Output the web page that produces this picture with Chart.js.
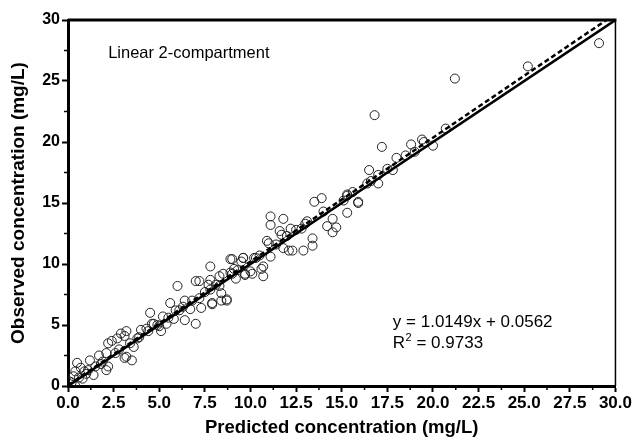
<!DOCTYPE html>
<html>
<head>
<meta charset="utf-8">
<script src="https://cdn.jsdelivr.net/npm/chart.js@4/dist/chart.umd.min.js"></script>
<style>
html,body{margin:0;padding:0;background:#fff;}
#wrap{width:633px;height:442px;position:relative;}
</style>
</head>
<body>
<div id="wrap"><canvas id="c" width="633" height="442"></canvas></div>
<script>
// Observed vs predicted concentrations (mg/L)
const predicted = [
 29.1,21.2,25.2,20.7,19.4,16.8,17.2,18.8,19.5,20.0,18.0,17.8,16.5,17.0,16.4,17.0,15.3,15.1,15.9,15.3,
 13.5,13.9,15.3,15.9,11.1,11.8,11.1,13.1,14.5,14.2,14.7,14.5,12.2,11.6,11.7,12.8,13.4,13.4,10.9,11.0,
 11.8,12.1,12.3,12.9,11.1,9.6,10.3,9.0,10.7,10.6,10.0,9.7,10.7,9.1,9.0,7.8,8.9,9.5,9.6,6.0,
 7.0,7.2,7.8,8.3,8.5,8.9,9.2,9.7,7.7,7.8,8.3,8.4,8.7,8.4,7.9,7.3,7.2,6.4,5.6,5.9,
 6.3,6.7,6.4,7.0,4.5,5.2,5.8,4.7,5.4,5.0,4.3,4.0,5.1,4.6,2.9,3.2,3.1,2.7,2.4,2.2,
 2.1,3.2,3.5,3.6,3.4,1.7,1.2,1.8,2.2,2.1,0.5,0.7,0.4,0.9,1.1,1.4,0.3,0.05,0.4,0.2,
 0.8,1.0,3.1,7.9,8.7,10.2,10.1,16.6,18.5,19.0,14.0,13.0,12.5,6.8,5.5,4.9,3.8,2.6,1.5,0.6,
 1.9,2.8,3.9,4.4,6.1,7.5,8.1,9.3,10.5,11.4,12.0,15.6,17.5
];
const observed = [
 28.1,25.2,26.2,21.1,20.2,22.2,19.6,19.8,20.0,19.7,18.7,17.7,17.7,17.3,16.6,16.6,15.7,15.2,15.0,14.2,
 15.1,15.4,15.6,15.1,13.9,13.7,13.2,13.5,13.7,13.1,13.0,12.6,12.9,12.7,12.4,12.9,12.1,11.5,11.9,11.7,
 11.3,11.1,11.1,11.1,10.6,10.5,10.5,10.4,9.8,9.6,9.4,9.1,9.0,9.6,9.2,9.8,10.4,10.2,10.5,8.2,
 8.6,8.6,8.7,9.0,9.2,9.3,8.8,9.2,8.3,7.9,8.2,7.6,7.0,7.0,6.8,6.4,7.2,7.0,6.8,6.2,
 6.5,6.3,5.4,5.1,6.0,5.7,5.5,5.1,5.1,4.9,4.7,4.6,4.5,5.1,4.3,4.5,4.1,3.9,3.7,3.5,
 2.7,2.4,2.1,3.2,3.5,2.5,2.1,1.8,1.6,1.3,1.9,1.5,1.2,1.2,1.3,0.9,0.8,0.4,0.0,0.3,
 0.6,1.0,2.3,6.7,7.1,10.5,9.2,16.8,18.9,19.2,14.3,13.3,12.8,7.0,5.6,5.0,3.9,2.7,1.6,0.7,
 2.0,3.0,4.0,4.5,6.2,7.7,8.3,9.5,10.7,11.6,12.3,15.9,17.8
];
const xTicks = [0, 2.5, 5, 7.5, 10, 12.5, 15, 17.5, 20, 22.5, 25, 27.5, 30];
const yTicks = [0, 5, 10, 15, 20, 25, 30];
const slope = 1.0149, intercept = 0.0562;
const fitX = [0, 29.5];
const identityX = [0, 30];

const scatterData = predicted.map((x, i) => ({x: x, y: observed[i]}));
const fitData = fitX.map(x => ({x: x, y: slope * x + intercept}));
const identityData = identityX.map(x => ({x: x, y: x}));

const FONT = "'Liberation Sans', Arial, sans-serif";

const decor = {
  id: 'decor',
  afterDraw(chart) {
    const ctx = chart.ctx, a = chart.chartArea;
    const xs = chart.scales.x, ys = chart.scales.y;
    ctx.save();
    ctx.strokeStyle = '#000';
    // frame top and right
    ctx.lineWidth = 3;
    ctx.beginPath(); ctx.moveTo(a.left, a.top); ctx.lineTo(a.right + 1, a.top); ctx.stroke();
    ctx.lineWidth = 1.5;
    ctx.beginPath(); ctx.moveTo(a.right, a.top); ctx.lineTo(a.right, a.bottom); ctx.stroke();
    // minor ticks
    ctx.lineWidth = 1.5;
    for (let i = 0; i < xTicks.length - 1; i++) {
      const v = (xTicks[i] + xTicks[i + 1]) / 2;
      const px = xs.getPixelForValue(v);
      ctx.beginPath(); ctx.moveTo(px, a.bottom); ctx.lineTo(px, a.bottom + 4); ctx.stroke();
    }
    for (let i = 0; i < yTicks.length - 1; i++) {
      const v = (yTicks[i] + yTicks[i + 1]) / 2;
      const py = ys.getPixelForValue(v);
      ctx.beginPath(); ctx.moveTo(a.left, py); ctx.lineTo(a.left - 4, py); ctx.stroke();
    }
    // annotations
    ctx.fillStyle = '#000';
    ctx.textBaseline = 'alphabetic';
    ctx.textAlign = 'left';
    ctx.font = "16.5px " + FONT;
    ctx.fillText('Linear 2-compartment', xs.getPixelForValue(2.2), ys.getPixelForValue(26.9));
    ctx.font = "17px " + FONT;
    const ex = xs.getPixelForValue(17.8);
    ctx.fillText('y = 1.0149x + 0.0562', ex, ys.getPixelForValue(4.8));
    const ry = ys.getPixelForValue(3.1);
    ctx.fillText('R', ex, ry);
    const rw = ctx.measureText('R').width;
    ctx.font = "11px " + FONT;
    ctx.fillText('2', ex + rw + 0.5, ry - 7);
    const sw = ctx.measureText('2').width;
    ctx.font = "17px " + FONT;
    ctx.fillText(' = 0.9733', ex + rw + sw + 0.5, ry);
    ctx.restore();
  }
};

new Chart(document.getElementById('c'), {
  type: 'scatter',
  data: {
    datasets: [
      {
        label: 'Observations',
        data: scatterData,
        pointStyle: 'circle',
        pointRadius: 4.5,
        pointBorderWidth: 1,
        pointBorderColor: '#222',
        pointBackgroundColor: 'rgba(0,0,0,0)',
        showLine: false,
        order: 3
      },
      {
        label: 'Identity',
        data: identityData,
        showLine: true,
        borderColor: '#000',
        borderWidth: 2.5,
        pointRadius: 0,
        order: 2
      },
      {
        label: 'Regression',
        data: fitData,
        showLine: true,
        borderColor: '#000',
        borderWidth: 2.5,
        borderDash: [5, 3],
        pointRadius: 0,
        order: 1
      }
    ]
  },
  options: {
    responsive: false,
    animation: false,
    devicePixelRatio: 1,
    layout: { padding: { left: 0, right: 17, top: 20, bottom: 0 } },
    plugins: { legend: { display: false }, tooltip: { enabled: false } },
    scales: {
      x: {
        type: 'linear', min: 0, max: 30,
        afterBuildTicks(scale) { scale.ticks = xTicks.map(v => ({value: v})); },
        afterFit(scale) { scale.height = 56; },
        grid: { drawOnChartArea: false, drawTicks: true, tickLength: 6, tickColor: '#000', tickWidth: 2 },
        border: { display: true, color: '#000', width: 3 },
        ticks: {
          color: '#000', padding: 1, maxRotation: 0, autoSkip: false,
          font: { family: FONT, size: 17, weight: 'bold' },
          callback: v => Number(v).toFixed(1)
        },
        title: {
          display: true, text: 'Predicted concentration (mg/L)', color: '#000',
          font: { family: FONT, size: 18.5, weight: 'bold' }, padding: { top: 0, bottom: 3 }
        }
      },
      y: {
        type: 'linear', min: 0, max: 30,
        afterBuildTicks(scale) { scale.ticks = yTicks.map(v => ({value: v})); },
        afterFit(scale) { scale.width = 68; },
        grid: { drawOnChartArea: false, drawTicks: true, tickLength: 6, tickColor: '#000', tickWidth: 2 },
        border: { display: true, color: '#000', width: 3 },
        ticks: {
          color: '#000', padding: 2,
          font: { family: FONT, size: 16, weight: 'bold' },
          callback: v => String(v)
        },
        title: {
          display: true, text: 'Observed concentration (mg/L)', color: '#000',
          font: { family: FONT, size: 19, weight: 'bold' }, padding: { top: 7, bottom: 0 }
        }
      }
    }
  },
  plugins: [decor]
});
</script>
</body>
</html>
